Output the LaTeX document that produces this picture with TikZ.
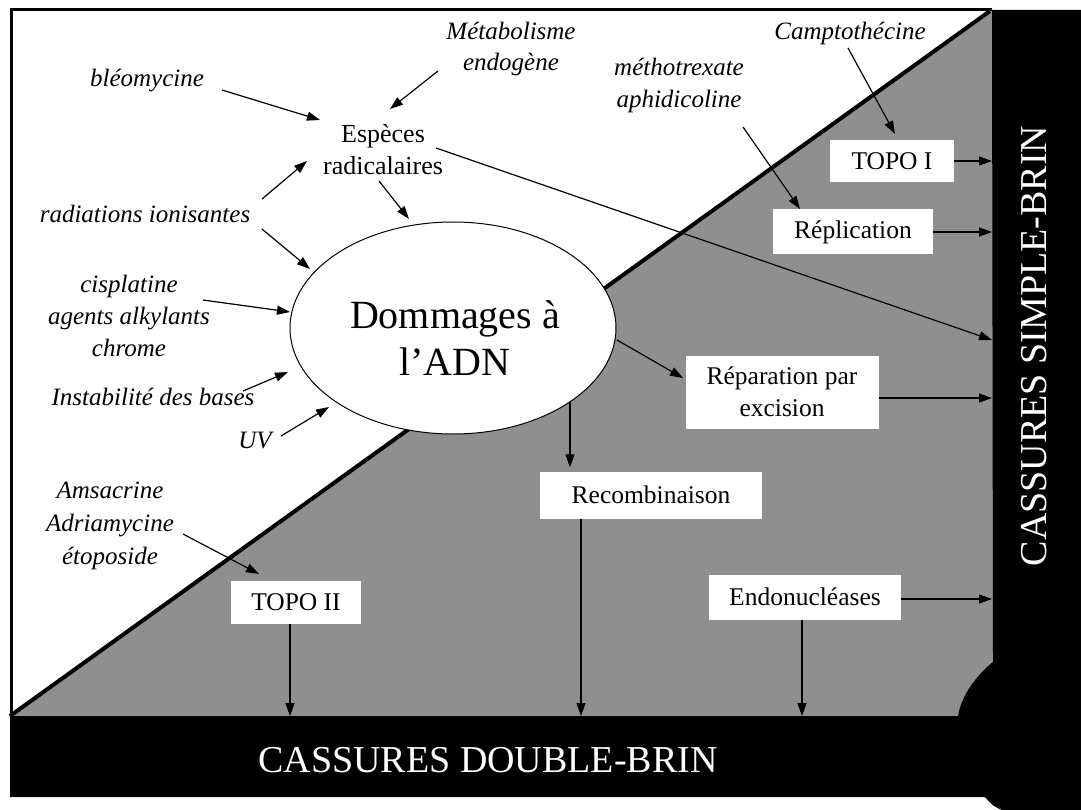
\documentclass[tikz,border=0pt]{standalone}
\usepackage{fontspec}
\setmainfont{Liberation Serif}
\usetikzlibrary{arrows.meta,calc,shapes.geometric}
\definecolor{zonegray}{RGB}{143,143,143}
\begin{document}
\begin{tikzpicture}[x=1pt,y=-1pt,
  lbl/.style={font=\fontsize{25}{31}\selectfont\itshape, align=center, inner sep=0pt},
  upr/.style={font=\fontsize{26}{32}\selectfont, align=center, inner sep=0pt},
  box/.style={fill=white, font=\fontsize{25.5}{32}\selectfont, align=center, inner xsep=20pt, inner ysep=0pt, minimum height=44pt},
  arr/.style={line width=1.2pt, -{Triangle[length=13pt,width=9pt]}},
  band/.style={text=white, font=\fontsize{38}{40}\selectfont, inner sep=0pt}
]
\useasboundingbox (0,0) rectangle (1081,810);
\fill[white] (0,0) rectangle (1081,810);
% gray lower-right triangle
\fill[zonegray] (10,716) -- (990,10) -- (994,10) -- (994,716) -- cycle;
% black L-shaped bands
\fill[black] (992,10) -- (1081,10) -- (1081,810) -- (1002,810)
  .. controls (993,806) .. (985,797) -- (10,797) -- (10,716) -- (958,716)
  .. controls (962,690) and (985,668) .. (993,662) -- cycle;
% diagonal and frame
\draw[line width=4pt] (10,716) -- (990,11);
\draw[line width=3pt] (10,9.5) -- (992,9.5);
\draw[line width=3.5pt] (11.5,8) -- (11.5,716);
% coordinates on band edges
\coordinate (edgeR) at (992,0);
\coordinate (edgeB) at (0,716);
\coordinate (sRa) at (992,340);
% central ellipse
\node[ellipse, draw, line width=1pt, fill=white, minimum width=326pt, minimum height=212pt, inner sep=0pt] (dom) at (453,328) {};
\node[font=\fontsize{40}{47}\selectfont, align=center, inner sep=0pt] (domtxt) at (455,338) {Dommages à\\l’ADN};
% band texts
\node[band] (dsb) at (488,760) {CASSURES DOUBLE-BRIN};
\node[band, rotate=90] (ssb) at (1034,346) {CASSURES SIMPLE-BRIN};
% labels
\node[lbl] (meta) at (511,49) {Métabolisme\\endogène};
\node[lbl] (bleo) at (147,81) {bléomycine};
\node[upr] (esp) at (383,150) {Espèces\\radicalaires};
\node[lbl] (radi) at (145,214) {radiations ionisantes};
\node[lbl, font=\fontsize{25}{32}\selectfont\itshape] (cisp) at (129,316) {cisplatine\\agents alkylants\\chrome};
\node[lbl] (inst) at (153,397) {Instabilité des bases};
\node[lbl] (uv) at (255,441) {UV};
\node[lbl, font=\fontsize{25}{33}\selectfont\itshape] (ams) at (110,526) {Amsacrine\\Adriamycine\\étoposide};
\node[lbl, font=\fontsize{25}{32}\selectfont\itshape] (metho) at (679,85) {méthotrexate\\aphidicoline};
\node[lbl] (campto) at (850,33) {Camptothécine};
% boxes
\node[box, minimum width=124pt, minimum height=42pt] (topo1) at (892,161) {TOPO I};
\node[box, minimum width=160pt, minimum height=45pt] (repl) at (853,232) {Réplication};
\node[box, minimum width=193pt, minimum height=73pt] (repa) at (782,392) {Réparation par\\excision};
\node[box, minimum width=222pt, minimum height=47pt] (recomb) at (651,495) {Recombinaison};
\node[box, minimum width=185pt, minimum height=45pt] (endo) at (805,597) {Endonucléases};
\node[box, minimum width=128pt, minimum height=43pt] (topo2) at (296,602) {TOPO II};
% helper coordinates for arrow starts
\coordinate (repaR) at ($(repa.east)+(0,6)$);
\coordinate (endoR) at ($(endo.east)+(0,2)$);
\coordinate (recS) at ($(recomb.south)+(-70,0)$);
\coordinate (endoS) at ($(endo.south)+(-3,0)$);
\coordinate (topoS) at ($(topo2.south)+(-6,0)$);
% arrows
\draw[arr] ($(bleo)+(75,9)$) -- ($(esp)+(-63,-30)$);
\draw[arr] ($(meta)+(-73,22)$) -- ($(esp)+(7,-41)$);
\draw[arr] ($(radi)+(117,-15)$) -- ($(esp)+(-76,11)$);
\draw[arr] ($(radi)+(117,15)$) -- ($(dom)+(-143,-59)$);
\draw[arr] ($(esp)+(-4,31)$) -- ($(dom)+(-44,-109)$);
\draw[arr] ($(cisp)+(74,-16)$) -- ($(dom)+(-163,-16)$);
\draw[arr] ($(inst)+(90,-6)$) -- ($(dom)+(-165,44)$);
\draw[arr] ($(uv)+(26,-5)$) -- ($(dom)+(-124,79)$);
\draw[arr] ($(esp)+(53,-2)$) -- (sRa);
\draw[arr] ($(campto)+(-2,15)$) -- ($(topo1)+(3,-27)$);
\draw[arr] ($(metho)+(64,42)$) -- ($(repl)+(-53,-23)$);
\draw[arr] (topo1.east) -- (topo1.east -| edgeR);
\draw[arr] (repl.east) -- (repl.east -| edgeR);
\draw[arr] ($(dom)+(164,12)$) -- ($(repa)+(-99,-14)$);
\draw[arr] (repaR) -- (repaR -| edgeR);
\draw[arr] ($(dom)+(117,74)$) -- ($(recomb.north)+(-81,-4)$);
\draw[arr] (recS) -- (recS |- edgeB);
\draw[arr] (endoR) -- (endoR -| edgeR);
\draw[arr] (endoS) -- (endoS |- edgeB);
\draw[arr] (topoS) -- (topoS |- edgeB);
\draw[arr] ($(ams)+(73,8)$) -- ($(topo2)+(-37,-28)$);
\end{tikzpicture}
\end{document}
